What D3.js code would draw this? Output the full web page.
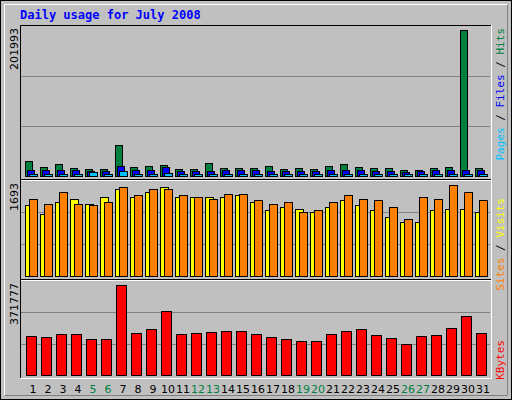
<!DOCTYPE html>
<html><head><meta charset="utf-8">
<script src="https://cdn.jsdelivr.net/npm/d3@7"></script>
<style>body{margin:0;background:#fff}svg{display:block}</style>
</head><body>
<svg id="chart" width="512" height="400"></svg>
<script>
var days = d3.range(1, 32);
var weekends = [5, 6, 12, 13, 19, 20, 26, 27];
var hits = [21070, 12825, 16947, 11451, 10077, 10077, 43055, 12825, 14199, 15573, 10077, 10077, 18321, 11451, 11451, 11451, 14199, 10077, 11451, 10077, 14199, 16947, 12825, 11451, 11451, 8702, 8702, 11451, 12825, 201993, 11451];
var files = [8700, 8700, 8700, 8700, 7300, 8000, 14199, 8700, 8700, 12825, 8000, 8000, 8000, 8700, 8700, 8700, 8000, 8000, 7300, 8000, 8700, 8700, 8700, 8000, 8000, 6400, 8000, 8700, 8700, 8700, 8700];
var pages = [3200, 3200, 3200, 3200, 5500, 3200, 7300, 3200, 3200, 4600, 3200, 3200, 3200, 3200, 3200, 3200, 3200, 3200, 3200, 3200, 3200, 3200, 3200, 3200, 3200, 3200, 3200, 3200, 3200, 3200, 3200];
var sites = [1307, 1159, 1362, 1417, 1325, 1472, 1601, 1454, 1546, 1638, 1454, 1472, 1472, 1454, 1491, 1380, 1215, 1288, 1251, 1178, 1288, 1399, 1307, 1215, 1086, 994, 1012, 1215, 1233, 1251, 1178];
var visits = [1417, 1343, 1564, 1343, 1307, 1380, 1638, 1491, 1601, 1619, 1491, 1472, 1435, 1509, 1527, 1399, 1325, 1362, 1196, 1215, 1380, 1491, 1417, 1399, 1288, 1049, 1454, 1417, 1693, 1564, 1399];
var kbytes = [163418, 159332, 171587, 171587, 151160, 151160, 371777, 175672, 192014, 265553, 171587, 175672, 179758, 183845, 183845, 171587, 159332, 151160, 138906, 142990, 171587, 183845, 192014, 167502, 155247, 126650, 163418, 167502, 196100, 245126, 175672];

var svg = d3.select('#chart');
var mono = 'DejaVu Sans Mono', sans = 'DejaVu Sans';

// background and frames
svg.append('rect').attr('x', 0.5).attr('y', 0.5).attr('width', 511).attr('height', 399)
  .attr('fill', '#c0c0c0').attr('stroke', '#000');
svg.append('path').attr('d', 'M4.5,395.5V4.5H507.5').attr('fill', 'none').attr('stroke', '#fff');
svg.append('path').attr('d', 'M4.5,395.5H507.5V4.5').attr('fill', 'none').attr('stroke', '#808080');

svg.append('text').attr('x', 20).attr('y', 19).text('Daily usage for July 2008')
  .attr('font-family', mono).attr('font-weight', 'bold').attr('font-size', 12).attr('fill', '#0000ff');

var x = d3.scaleBand().domain(days).range([25.5, 490.5]);
function cx(d) { return x(d) + x.bandwidth() / 2; }

var panels = [
  {top: 25, bottom: 180, base: 176.5, peak: 29.5, max: d3.max(hits), label: '201993'},
  {top: 180, bottom: 280, base: 276.5, peak: 184.5, max: d3.max(visits), label: '1693'},
  {top: 280, bottom: 378, base: 375.5, peak: 284.5, max: d3.max(kbytes), label: '371777'}
];

panels.forEach(function(p) {
  p.y = d3.scaleLinear().domain([0, p.max]).range([p.base, p.peak]);
  [1, 2].forEach(function(k) {
    var gy = Math.round(p.base - (p.base - p.top) * k / 3) + 0.5;
    svg.append('line').attr('x1', 21).attr('x2', 490).attr('y1', gy).attr('y2', gy).attr('stroke', '#808080');
  });
  svg.append('text').attr('transform', 'translate(18,' + (p.top + 3) + ') rotate(-90)')
    .attr('text-anchor', 'end').text(p.label)
    .attr('font-family', sans).attr('font-size', 11).attr('fill', '#000');
});

// frame lines
svg.append('path').attr('d', 'M20.5,378V25.5H491').attr('fill', 'none').attr('stroke', '#000');
svg.append('path').attr('d', 'M20,378.5H491.5V25').attr('fill', 'none').attr('stroke', '#fff');
[180, 280].forEach(function(yy) {
  svg.append('line').attr('x1', 21).attr('x2', 491).attr('y1', yy - 0.5).attr('y2', yy - 0.5).attr('stroke', '#000');
  svg.append('line').attr('x1', 21).attr('x2', 491).attr('y1', yy + 0.5).attr('y2', yy + 0.5).attr('stroke', '#fff');
});

function bars(vals, p, off, w, color) {
  svg.append('g').selectAll('rect').data(vals).enter().append('rect')
    .attr('x', function(d, i) { return Math.round(cx(days[i])) + off + 0.5; })
    .attr('y', function(d) { return Math.round(p.y(d)) + 0.5; })
    .attr('width', w)
    .attr('height', function(d) { return Math.max(0, p.base - Math.round(p.y(d)) - 0.5); })
    .attr('fill', color).attr('stroke', '#000');
}
bars(hits, panels[0], -8, 7, '#008040');
bars(files, panels[0], -6, 7, '#0000ff');
bars(pages, panels[0], -4, 8, '#00c0ff');
bars(sites, panels[1], -8, 8, '#ffff00');
bars(visits, panels[1], -4, 8, '#ff8000');
bars(kbytes, panels[2], -7, 10, '#ff0000');

// day labels
svg.append('g').selectAll('text').data(days).enter().append('text')
  .attr('x', cx).attr('y', 393).attr('text-anchor', 'middle').text(function(d) { return d; })
  .attr('font-family', sans).attr('font-size', 11)
  .attr('fill', function(d) { return weekends.indexOf(d) >= 0 ? '#008040' : '#000'; });

// right legends
function legend(parts, yEnd) {
  var t = svg.append('text').attr('transform', 'translate(504,' + yEnd + ') rotate(-90)')
    .attr('text-anchor', 'end').attr('font-family', mono).attr('font-size', 11);
  parts.forEach(function(pt) { t.append('tspan').text(pt[0]).attr('fill', pt[1]); });
}
legend([['Pages', '#00c0ff'], [' / ', '#000'], ['Files', '#0000ff'], [' / ', '#000'], ['Hits', '#008040']], 28);
legend([['Sites', '#ff8000'], [' / ', '#000'], ['Visits', '#ffff00']], 198);
legend([['KBytes', '#ff0000']], 340);
</script>
</body></html>
